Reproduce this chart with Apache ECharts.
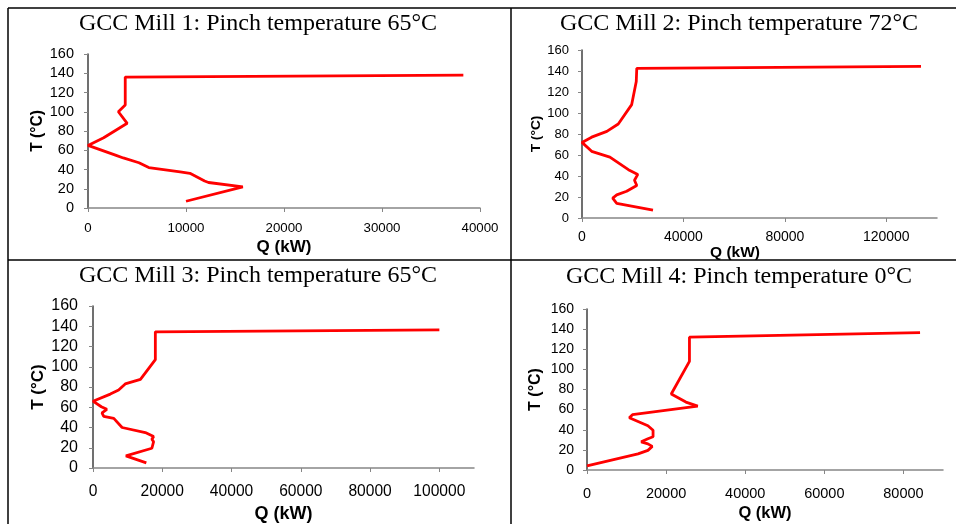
<!DOCTYPE html>
<html>
<head>
<meta charset="utf-8">
<title>GCC Mills</title>
<script src="https://cdn.jsdelivr.net/npm/echarts@6/dist/echarts.min.js"></script>
<style>
  html, body { margin: 0; padding: 0; background: #fff; }
  #gcc { width: 956px; height: 524px; }
</style>
</head>
<body>
<div id="gcc"></div>
<script>
// Grand composite curves, Q (kW) vs T (°C)
var mill1Q = [10000, 15800, 12300, 11900, 10400, 9400, 6200, 5200, 3600, 2800, 0, 1600, 4000, 3100, 3800, 3800, 38300];
var mill1T = [7, 22, 26.5, 28, 36, 37.5, 42, 47, 52, 55, 65, 73, 88, 100, 107, 136, 138];

var mill2Q = [28000, 13700, 12100, 13700, 17600, 21600, 20700, 22000, 18300, 11000, 3800, 0, 3800, 9800, 14300, 19600, 21400, 21600, 133700];
var mill2T = [7.5, 14, 19, 22, 25.5, 31, 36, 41.5, 46, 58, 63.5, 72, 77, 82.5, 89.5, 108, 130, 142.5, 144.5];

var mill3Q = [15400, 9500, 17000, 17500, 17000, 17500, 15100, 8400, 6000, 3100, 2600, 4000, 2400, 0, 5000, 7400, 9300, 13700, 18000, 18000, 100000];
var mill3T = [5, 12, 19.5, 26, 28.5, 31, 35, 40, 49, 51, 54.5, 58, 60.5, 66, 73, 77, 83, 87.5, 107, 134.5, 136.5];

var mill4Q = [0, 12900, 15400, 16500, 15400, 13700, 15400, 16700, 16700, 15400, 10700, 11500, 28000, 25000, 21300, 25900, 25900, 84200];
var mill4T = [4, 16, 19.5, 23.5, 26, 28, 31, 33, 39.5, 44, 52, 55, 63.5, 67.5, 75.5, 108, 132, 136.5];

var titles = [
    'GCC Mill 1: Pinch temperature 65°C',
    'GCC Mill 2: Pinch temperature 72°C',
    'GCC Mill 3: Pinch temperature 65°C',
    'GCC Mill 4: Pinch temperature 0°C'
];

var xMax = [40000, 140000, 110000, 90000];
var xStep = [10000, 40000, 20000, 20000];
var yMax = 160;
var yStep = 20;

var chart = echarts.init(document.getElementById('gcc'));

// plot areas in px, one per table cell
var grids = [
    {left: 88, top: 54, width: 392, height: 154},
    {left: 582, top: 50, width: 355, height: 168},
    {left: 93, top: 306, width: 381, height: 162},
    {left: 587, top: 309, width: 356, height: 161}
];
var titlePos = [
    {x: 258, y: 12},
    {x: 739, y: 12},
    {x: 258, y: 264},
    {x: 739, y: 265}
];

// the four source charts were scaled a bit differently
var xLabelSize = [13.3, 14, 15.6, 14.5];
var yLabelSize = [14.5, 13, 16, 14];
var xLabelMargin = [14, 12, 16, 16];
var yLabelMargin = [14, 13, 15, 13];
var xNameSize = [17, 15.5, 18, 16.5];
var yNameSize = [15.6, 13.7, 17, 16];
var xNameGap = [31, 18, 37, 35];
var xNamePadRight = [0, 49, 0, 0];
var yNameGap = [42, 39, 46, 43];

var zip = function(qs, ts) {
    return qs.map(function(q, i) { return [q, ts[i]]; });
};
var seriesData = [zip(mill1Q, mill1T), zip(mill2Q, mill2T), zip(mill3Q, mill3T), zip(mill4Q, mill4T)];

var sans = 'Liberation Sans, Arial, sans-serif';
var plain = function(v) { return String(v); };

var option = {
    animation: false,
    title: titles.map(function(t, i) {
        return {
            text: t,
            left: titlePos[i].x,
            top: titlePos[i].y,
            textAlign: 'center',
            padding: 0,
            textStyle: {
                color: '#000',
                fontSize: 24,
                fontWeight: 'normal',
                fontFamily: 'Liberation Serif, Times New Roman, serif'
            }
        };
    }),
    grid: grids.map(function(g) {
        return {left: g.left, top: g.top, width: g.width, height: g.height, containLabel: false};
    }),
    xAxis: grids.map(function(g, i) {
        return {
            type: 'value',
            gridIndex: i,
            min: 0,
            max: xMax[i],
            interval: xStep[i],
            name: 'Q (kW)',
            nameLocation: 'middle',
            nameGap: xNameGap[i],
            nameTextStyle: {
                color: '#000',
                fontSize: xNameSize[i],
                fontWeight: 'bold',
                fontFamily: sans,
                padding: [0, xNamePadRight[i], 0, 0]
            },
            splitLine: {show: false},
            axisLine: {onZero: false, lineStyle: {color: '#868686', width: 1.5}},
            axisTick: {show: true, length: 4, lineStyle: {color: '#868686'}},
            axisLabel: {
                margin: xLabelMargin[i],
                showMaxLabel: i === 0,
                formatter: plain,
                color: '#000',
                fontSize: xLabelSize[i],
                fontFamily: sans
            }
        };
    }),
    yAxis: grids.map(function(g, i) {
        return {
            type: 'value',
            gridIndex: i,
            min: 0,
            max: yMax,
            interval: yStep,
            name: 'T (°C)',
            nameLocation: 'middle',
            nameGap: yNameGap[i],
            nameRotate: 90,
            nameTextStyle: {
                color: '#000',
                fontSize: yNameSize[i],
                fontWeight: 'bold',
                fontFamily: sans
            },
            splitLine: {show: false},
            axisLine: {show: true, onZero: false, lineStyle: {color: '#404040', width: 1.5}},
            axisTick: {show: true, length: 4, lineStyle: {color: '#868686'}},
            axisLabel: {
                margin: yLabelMargin[i],
                formatter: plain,
                color: '#000',
                fontSize: yLabelSize[i],
                fontFamily: sans
            }
        };
    }),
    series: seriesData.map(function(d, i) {
        return {
            type: 'line',
            xAxisIndex: i,
            yAxisIndex: i,
            data: d,
            showSymbol: false,
            symbol: 'none',
            lineStyle: {color: '#ff0000', width: 2.8}
        };
    }),
    // table borders around the four panels
    graphic: [
        {type: 'line', shape: {x1: 8, y1: 8, x2: 956, y2: 8}, style: {stroke: '#000', lineWidth: 1.5}},
        {type: 'line', shape: {x1: 8, y1: 8, x2: 8, y2: 524}, style: {stroke: '#000', lineWidth: 1.5}},
        {type: 'line', shape: {x1: 8, y1: 260, x2: 956, y2: 260}, style: {stroke: '#000', lineWidth: 1.5}},
        {type: 'line', shape: {x1: 511, y1: 8, x2: 511, y2: 524}, style: {stroke: '#000', lineWidth: 1.5}}
    ]
};

chart.setOption(option);
</script>
</body>
</html>
